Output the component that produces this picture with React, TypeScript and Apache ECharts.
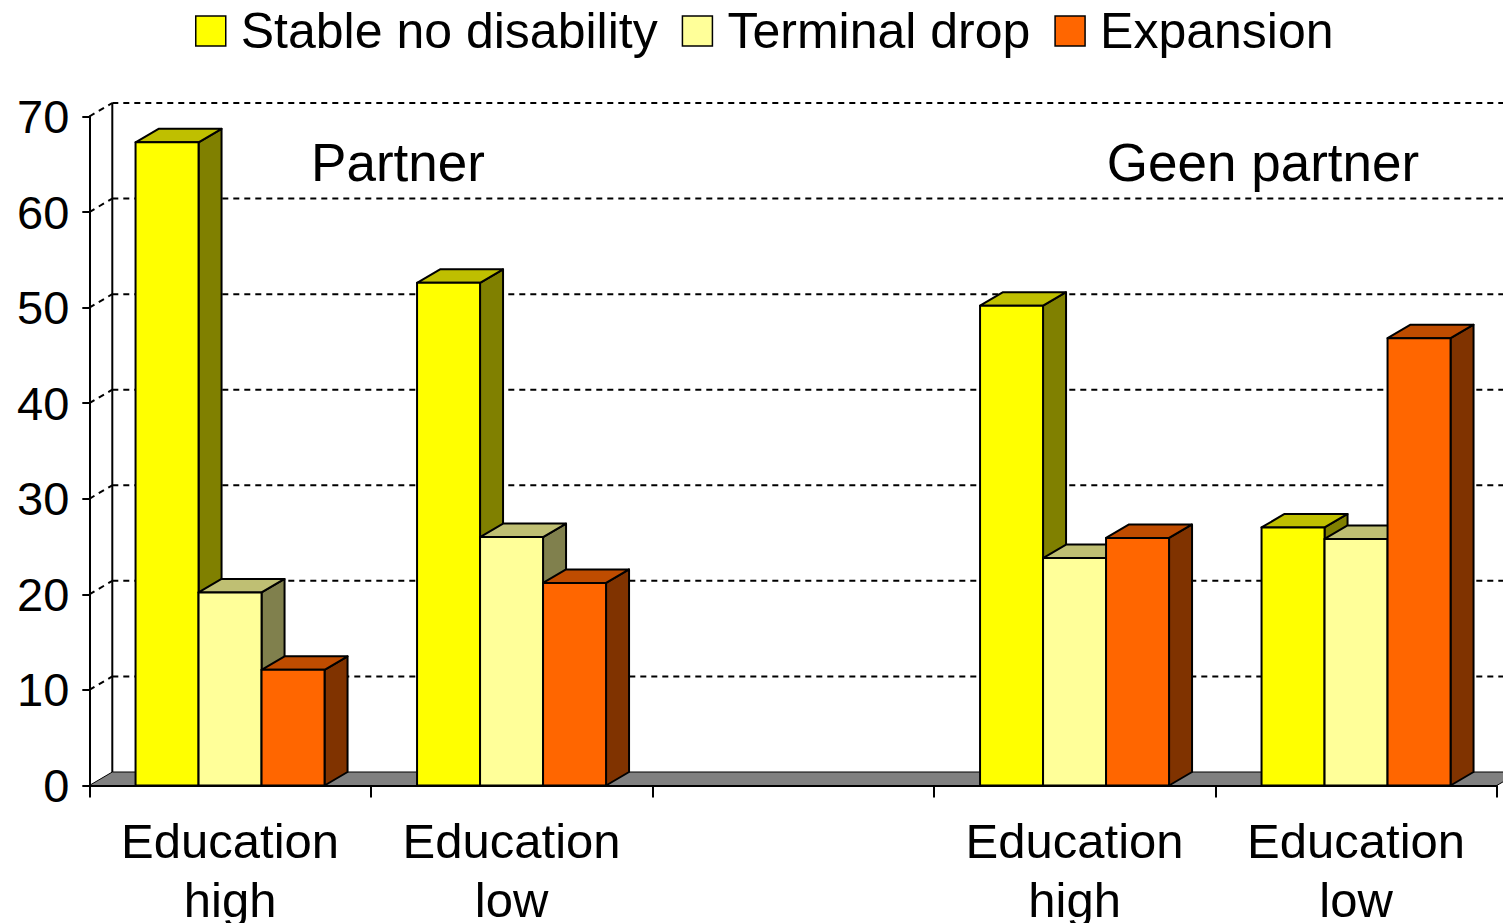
import React, { useEffect, useRef } from "react";
import * as echarts from "echarts";

// ---------- data ----------
const categories = ["Education\nhigh", "Education\nlow", "", "Education\nhigh", "Education\nlow"];
const seriesNames = ["Stable no disability", "Terminal drop", "Expansion"];
const stableNoDisability: (number | null)[] = [67.3, 52.6, null, 50.2, 27.0];
const terminalDrop: (number | null)[] = [20.2, 26.0, null, 23.8, 25.8];
const expansion: (number | null)[] = [12.1, 21.2, null, 25.9, 46.8];
const yTicks = [0, 10, 20, 30, 40, 50, 60, 70];
const groupLabels = ["Partner", "Geen partner"];

// ---------- styling ----------
const FONT = "'Liberation Sans', Arial, sans-serif";
const DX = 23;
const DY = 13.5;
const BAR_RATIO = 0.2238;
const palette = [
  { front: "#FFFF00", top: "#BFBF00", side: "#808000" },
  { front: "#FFFF99", top: "#BFBF73", side: "#80804D" },
  { front: "#FF6600", top: "#BF4C00", side: "#803300" },
];

const GRID = { left: 89.3, top: 116.5, width: 1407.5, height: 669 };

function barSeries(name: string, values: (number | null)[], idx: number) {
  const c = palette[idx];
  return {
    type: "custom",
    name,
    clip: false,
    encode: { x: 0, y: 1 },
    itemStyle: { color: c.front, borderColor: "#000", borderWidth: 1.5 },
    data: values.map((v, i) => [i, v]).filter((d) => d[1] != null),
    renderItem: (params: any, api: any) => {
      const cat = api.value(0);
      const val = api.value(1);
      const base = api.coord([cat, 0]);
      const top = api.coord([cat, val]);
      const catW = api.size([1, 0])[0];
      const bw = catW * BAR_RATIO;
      const x0 = base[0] - 1.5 * bw + idx * bw;
      const x1 = x0 + bw;
      const yb = base[1];
      const yt = top[1];
      const st = { stroke: "#000", lineWidth: 2, lineJoin: "round" };
      return {
        type: "group",
        children: [
          {
            type: "polygon",
            shape: { points: [[x1, yt], [x1 + DX, yt - DY], [x1 + DX, yb - DY], [x1, yb]] },
            style: { ...st, fill: c.side },
          },
          {
            type: "polygon",
            shape: { points: [[x0, yt], [x1, yt], [x1 + DX, yt - DY], [x0 + DX, yt - DY]] },
            style: { ...st, fill: c.top },
          },
          {
            type: "rect",
            shape: { x: x0, y: yt, width: bw, height: yb - yt },
            style: { ...st, fill: c.front },
          },
        ],
      };
    },
  };
}

export default function App() {
  const ref = useRef<HTMLDivElement>(null);

  useEffect(() => {
    if (!ref.current) return;
    const chart = echarts.init(ref.current, undefined, { renderer: "svg" });

    const wallSeries = {
      type: "custom",
      name: "walls",
      silent: true,
      clip: false,
      encode: { x: 0, y: 1 },
      data: yTicks.map((v) => [0, v]),
      z: 1,
      renderItem: (params: any, api: any) => {
        const cs = params.coordSys;
        const v = api.value(1);
        const y = api.coord([0, v])[1];
        const dash = { stroke: "#000", lineWidth: 2, lineDash: [6, 5], fill: null };
        const children: any[] = [];
        if (v === 0) {
          children.push({
            type: "polygon",
            shape: {
              points: [
                [cs.x, y],
                [cs.x + cs.width, y],
                [cs.x + cs.width + DX, y - DY],
                [cs.x + DX, y - DY],
              ],
            },
            style: { fill: "#808080", stroke: "#000", lineWidth: 1 },
          });
          const yTop = api.coord([0, yTicks[yTicks.length - 1]])[1];
          children.push({
            type: "line",
            shape: { x1: cs.x + DX, y1: y - DY, x2: cs.x + DX, y2: yTop - DY },
            style: { stroke: "#000", lineWidth: 2 },
          });
        } else {
          children.push({
            type: "line",
            shape: { x1: cs.x + DX, y1: y - DY, x2: cs.x + cs.width + DX + 40, y2: y - DY },
            style: dash,
          });
          children.push({
            type: "line",
            shape: { x1: cs.x, y1: y, x2: cs.x + DX, y2: y - DY },
            style: dash,
          });
        }
        return { type: "group", children };
      },
    };

    chart.setOption({
      animation: false,
      textStyle: { fontFamily: FONT, color: "#000" },
      legend: {
        data: seriesNames,
        left: 195,
        top: 6,
        padding: 0,
        itemWidth: 30,
        itemHeight: 30,
        itemGap: 24,
        icon: "rect",
        itemStyle: { borderColor: "#000", borderWidth: 1.5 },
        textStyle: { fontSize: 50, fontFamily: FONT, color: "#000", padding: [0, 0, 0, 10] },
      },
      grid: { ...GRID, containLabel: false, outerBoundsMode: "none" },
      xAxis: {
        type: "category",
        data: categories,
        boundaryGap: true,
        axisLine: { show: true, lineStyle: { color: "#000", width: 2 } },
        axisTick: { show: true, length: 12, interval: 0, lineStyle: { color: "#000", width: 2 } },
        axisLabel: {
          interval: 0,
          fontSize: 49,
          lineHeight: 59,
          margin: 26,
          color: "#000",
          fontFamily: FONT,
        },
        splitLine: { show: false },
        z: 5,
      },
      yAxis: {
        type: "value",
        min: 0,
        max: 70,
        interval: 10,
        axisLine: { show: true, lineStyle: { color: "#000", width: 2 } },
        axisTick: { show: true, length: 7, inside: false, lineStyle: { color: "#000", width: 2 } },
        axisLabel: { fontSize: 47, margin: 20, color: "#000", fontFamily: FONT },
        splitLine: { show: false },
        z: 5,
      },
      graphic: [
        {
          type: "text",
          x: 398,
          y: 162,
          style: {
            text: groupLabels[0],
            fontSize: 53,
            fontFamily: FONT,
            fill: "#000",
            align: "center",
            verticalAlign: "middle",
          },
        },
        {
          type: "text",
          x: 1263,
          y: 162,
          style: {
            text: groupLabels[1],
            fontSize: 53,
            fontFamily: FONT,
            fill: "#000",
            align: "center",
            verticalAlign: "middle",
          },
        },
      ],
      series: [
        wallSeries,
        barSeries(seriesNames[0], stableNoDisability, 0),
        barSeries(seriesNames[1], terminalDrop, 1),
        barSeries(seriesNames[2], expansion, 2),
      ],
    });

    return () => chart.dispose();
  }, []);

  return (
    <div
      ref={ref}
      style={{ position: "fixed", left: 0, top: 0, width: 1503, height: 923, background: "#fff" }}
    />
  );
}
